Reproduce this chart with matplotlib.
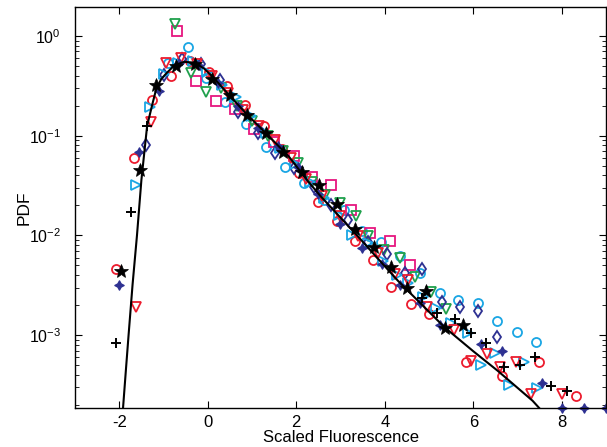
import numpy as np
import matplotlib
matplotlib.use("Agg")
import matplotlib.pyplot as plt
from matplotlib.ticker import LogLocator, FixedLocator, NullFormatter

plt.rcParams['font.family'] = ['Liberation Sans', 'DejaVu Sans']
plt.rcParams['mathtext.fontset'] = 'custom'
plt.rcParams['mathtext.rm'] = 'Liberation Sans'
plt.rcParams['axes.unicode_minus'] = False

### fitted curve
curve_x = [-1.915, -1.85, -1.79, -1.70, -1.60, -1.50, -1.37, -1.25, -1.16, -1.05, -0.94,
           -0.75, -0.53, -0.30, -0.08, 0.11, 0.48, 0.86, 1.31, 1.83, 2.24, 2.54, 3.33,
           4.30, 5.35, 6.00, 6.55, 7.34, 7.49]
curve_y = [1.86e-4, 4.5e-4, 1.0e-3, 3.2e-3, 1.0e-2, 3.6e-2, 0.126, 0.209, 0.30, 0.37, 0.42,
           0.51, 0.55, 0.54, 0.47, 0.39, 0.256, 0.168, 0.106, 0.062, 0.036, 0.025, 0.0105,
           3.5e-3, 1.2e-3, 6.9e-4, 4.4e-4, 2.2e-4, 1.86e-4]

### data sets
red_o_x = [-2.08, -1.674, -1.263, -0.827, -0.41, 0.034, 0.445, 0.843, 1.27, 1.68, 2.06,
           2.48, 2.92, 3.33, 3.74, 4.15, 4.59, 4.99, 5.84, 6.66, 7.49, 8.33]
red_o_y = [4.6e-3, 0.0593, 0.228, 0.397, 0.56, 0.439, 0.316, 0.203, 0.126, 0.074, 0.042,
           0.0214, 0.014, 0.00885, 0.00566, 0.00305, 0.00204, 0.00162, 5.4e-4, 3.9e-4,
           5.4e-4, 2.45e-4]

red_v_x = [-1.63, -1.29, -0.94, -0.60, -0.25, 0.10, 0.45, 0.80, 1.15, 1.53, 1.88, 2.23,
           2.58, 2.99, 3.40, 3.85, 4.23, 4.53, 4.95, 5.57, 5.95, 6.30, 6.61, 6.96, 7.30, 8.01]
red_v_y = [1.93e-3, 0.138, 0.54, 0.60, 0.52, 0.40, 0.27, 0.18, 0.125, 0.0906, 0.060, 0.037,
           0.025, 0.0155, 0.0098, 0.0066, 0.0041, 0.0036, 0.0019, 0.00112, 5.5e-4, 6.5e-4,
           4.8e-4, 5.4e-4, 2.6e-4, 2.6e-4]

cyan_o_x = [-0.90, -0.454, -0.03, 0.39, 0.872, 1.31, 1.74, 2.17, 2.62, 3.07, 3.48, 3.91,
            4.34, 4.79, 5.24, 5.65, 6.10, 6.53, 6.98, 7.41]
cyan_o_y = [0.53, 0.78, 0.38, 0.219, 0.131, 0.0766, 0.0482, 0.0333, 0.0229, 0.0178, 0.0111,
            0.0085, 0.0062, 0.0042, 0.00266, 0.00225, 0.00209, 0.0014, 0.00108, 8.6e-4]

cyan_r_x = [-1.63, -1.315, -1.00, -0.67, -0.34, -0.01, 0.32, 0.63, 0.98, 1.31, 1.64, 1.97,
            2.30, 2.63, 2.96, 3.25, 3.62, 3.95, 4.28, 4.53, 4.86, 5.16, 5.50, 5.88, 6.18,
            6.48, 6.81, 7.15, 7.45]
cyan_r_y = [0.032, 0.195, 0.42, 0.54, 0.56, 0.44, 0.32, 0.245, 0.158, 0.107, 0.076, 0.052,
            0.0347, 0.024, 0.0162, 0.0101, 0.0083, 0.0056, 0.004, 0.0033, 0.0024, 0.00186,
            0.00132, 0.00105, 5.0e-4, 6.7e-4, 3.2e-4, 5.4e-4, 2.95e-4]

green_v_x = [-0.73, -0.38, -0.04, 0.31, 0.66, 1.01, 1.36, 1.71, 2.04, 2.36, 2.65, 2.99,
             3.35, 3.63, 3.99, 4.34, 4.68, 5.05, 5.39]
green_v_y = [1.32, 0.43, 0.276, 0.30, 0.20, 0.141, 0.100, 0.071, 0.0537, 0.034, 0.0254,
             0.0209, 0.0157, 0.0099, 0.0072, 0.006, 0.0038, 0.00272, 0.00182]

mag_s_x = [-0.70, -0.265, 0.184, 0.618, 1.045, 1.49, 1.94, 2.355, 2.79, 3.24, 3.67, 4.11, 4.57]
mag_s_y = [1.12, 0.354, 0.224, 0.184, 0.116, 0.087, 0.063, 0.0383, 0.0321, 0.018, 0.0106,
           0.00885, 0.00505]

navy_d_x = [-1.39, -1.00, -0.58, -0.153, 0.27, 0.69, 1.14, 1.52, 1.95, 2.39, 2.78, 3.18,
            3.63, 4.04, 4.45, 4.84, 5.29, 5.71, 6.10, 6.53]
navy_d_y = [0.0807, 0.406, 0.59, 0.524, 0.363, 0.174, 0.107, 0.0676, 0.047, 0.0309, 0.020,
            0.0143, 0.0085, 0.00652, 0.00417, 0.00457, 0.00216, 0.00193, 0.00176, 9.6e-4]

navy_s_x = [-2.01, -1.56, -1.11, -0.66, -0.21, 0.24, 0.69, 1.14, 1.59, 2.04, 2.49, 2.99,
            3.48, 3.93, 4.34, 4.79, 5.24, 6.18, 6.64, 7.56, 8.0, 8.5, 9.0]
navy_s_y = [3.2e-3, 0.068, 0.282, 0.54, 0.51, 0.34, 0.20, 0.12, 0.079, 0.049, 0.0263, 0.013,
            0.0074, 0.0052, 0.0032, 0.0021, 0.00126, 8.1e-4, 7.0e-4, 3.3e-4, 1.86e-4,
            1.86e-4, 1.86e-4]

blk_p_x = [-2.08, -1.726, -1.366, 4.83, 5.19, 5.58, 5.94, 6.29, 6.69, 7.06, 7.39, 7.76, 8.12]
blk_p_y = [8.3e-4, 0.0171, 0.125, 0.00234, 0.00166, 0.00146, 0.00105, 8.4e-4, 4.75e-4,
           5.0e-4, 6.1e-4, 3.1e-4, 2.75e-4]

blk_s_x = [-1.95, -1.54, -1.16, -0.715, -0.30, 0.09, 0.50, 0.894, 1.31, 1.70, 2.13, 2.52,
           2.92, 3.33, 3.76, 4.14, 4.51, 4.94, 5.35, 5.76]
blk_s_y = [4.4e-3, 0.0453, 0.324, 0.50, 0.524, 0.37, 0.257, 0.161, 0.107, 0.069, 0.0437,
           0.0321, 0.0207, 0.0117, 0.0076, 0.00486, 0.0030, 0.00275, 0.00117, 0.00126]

red = '#ec1c2e'
cyan = '#1aa6e4'
green = '#1fa04c'
magenta = '#e6167f'
navy = '#2e3192'

fig = plt.figure(figsize=(6.07, 4.47), dpi=100)
ax = fig.add_axes([0.1236, 0.0872, 0.8748, 0.8971])

ms = 6.5
mew = 1.3
open_sets = [
    (red_o_x, red_o_y, 'o', red),
    (cyan_o_x, cyan_o_y, 'o', cyan),
    (mag_s_x, mag_s_y, 's', magenta),
    (green_v_x, green_v_y, 'v', green),
    (navy_d_x, navy_d_y, 'd', navy),
    (cyan_r_x, cyan_r_y, '>', cyan),
    (red_v_x, red_v_y, 'v', red),
]
for xs, ys, mk, c in open_sets:
    ax.plot(xs, ys, linestyle='none', marker=mk, markersize=ms, markerfacecolor='none',
            markeredgecolor=c, markeredgewidth=mew)

ax.plot(navy_s_x, navy_s_y, linestyle='none', marker=(4, 1, 0), markersize=7,
        color=navy, markeredgewidth=0.8, clip_on=False)
ax.plot(blk_p_x, blk_p_y, linestyle='none', marker='+', markersize=7, color='black',
        markeredgewidth=1.4)
ax.plot(curve_x, curve_y, color='black', linewidth=1.5)
ax.plot(blk_s_x, blk_s_y, linestyle='none', marker='*', markersize=10, color='black',
        markeredgewidth=0.5)

ax.set_yscale('log')
ax.set_xlim(-3, 9)
ax.set_ylim(1.86e-4, 1.95)
ax.xaxis.set_major_locator(FixedLocator([-2, 0, 2, 4, 6, 8]))
ax.yaxis.set_major_locator(LogLocator(base=10, numticks=10))
ax.yaxis.set_minor_locator(LogLocator(base=10, subs=np.arange(2, 10), numticks=10))
ax.yaxis.set_minor_formatter(NullFormatter())
ax.tick_params(which='both', direction='in', top=True, right=True)
ax.tick_params(which='major', length=5, width=0.8)
ax.tick_params(which='minor', length=3, width=0.6)
ax.tick_params(axis='x', labelsize=12, pad=5)
ax.tick_params(axis='y', labelsize=11.5, pad=10)
for sp in ax.spines.values():
    sp.set_linewidth(1.0)

ax.set_xlabel('Scaled Fluorescence', fontsize=12, labelpad=0)
ax.set_ylabel('PDF', fontsize=12.5, labelpad=-2)

fig.savefig('out.png', dpi=100)
